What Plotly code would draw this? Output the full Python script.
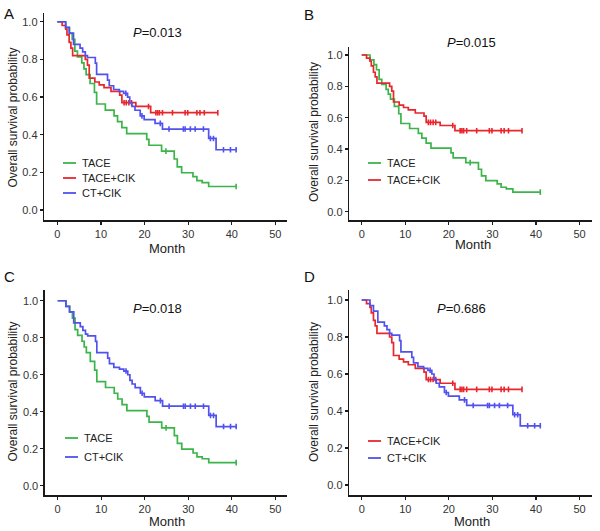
import plotly.graph_objects as go

W, H = 600, 531

# ---------------- data ----------------
# TACE group: step times (months) and survival after each step
tace_t = [0, 1.9, 2.8, 3.4, 4.0, 4.6, 5.6, 6.1, 6.6, 7.5, 8.5, 9.0, 11.0, 13.0, 13.8,
          14.8, 15.9, 20.5, 21.0, 23.9, 26.8, 27.5, 28.5, 31.1, 32.0, 33.2, 34.7]
tace_s = [1.0, 0.969, 0.938, 0.906, 0.844, 0.813, 0.781, 0.750, 0.719, 0.672, 0.625,
          0.563, 0.531, 0.500, 0.469, 0.438, 0.406, 0.375, 0.344, 0.313, 0.271, 0.229,
          0.198, 0.177, 0.156, 0.146, 0.125]
tace_end = 41.0
tace_cens = [24.9, 41.0]

# TACE+CIK group
tacecik_t = [0, 1.1, 1.9, 2.2, 2.7, 3.1, 3.5, 6.4, 6.9, 7.3, 8.6, 9.6, 10.7, 12.3,
             14.3, 14.8, 18.0, 21.4]
tacecik_s = [1.0, 0.98, 0.96, 0.93, 0.89, 0.86, 0.82, 0.80, 0.77, 0.70, 0.68, 0.665,
             0.65, 0.63, 0.61, 0.57, 0.55, 0.517]
tacecik_end = 36.8
tacecik_cens = [15.3, 15.8, 16.4, 17.0, 20.9, 22.6, 23.0, 23.4, 24.1, 26.4, 29.3,
                29.9, 32.0, 32.7, 33.7, 36.8]

# CT+CIK group
ctcik_t = [0, 1.9, 2.7, 3.7, 5.2, 5.8, 6.4, 6.9, 8.7, 9.0, 11.5, 11.9, 12.9, 14.2,
           15.2, 16.1, 16.6, 17.1, 17.8, 19.0, 19.9, 22.4, 24.1, 34.7, 36.4]
ctcik_s = [1.0, 0.97, 0.94, 0.88, 0.86, 0.84, 0.82, 0.81, 0.78, 0.72, 0.69, 0.66,
           0.64, 0.63, 0.62, 0.60, 0.57, 0.55, 0.53, 0.50, 0.48, 0.46, 0.43, 0.38, 0.32]
ctcik_end = 41.0
ctcik_cens = [15.7, 19.4, 23.6, 25.6, 28.9, 29.3, 30.5, 31.6, 33.5, 35.1, 35.8,
              38.1, 39.7, 41.0]

panel_letters = ["A", "B", "C", "D"]
p_values = ["0.013", "0.015", "0.018", "0.686"]
panel_groups = [["TACE", "TACE+CIK", "CT+CIK"], ["TACE", "TACE+CIK"],
                ["TACE", "CT+CIK"], ["TACE+CIK", "CT+CIK"]]
x_ticks = [0, 10, 20, 30, 40, 50]
y_ticks = [0.0, 0.2, 0.4, 0.6, 0.8, 1.0]

# ---------------- styling ----------------
colors = {"TACE": "#3bb44a", "TACE+CIK": "#e8262c", "CT+CIK": "#5151ee"}
groups = {
    "TACE": (tace_t, tace_s, tace_end, tace_cens),
    "TACE+CIK": (tacecik_t, tacecik_s, tacecik_end, tacecik_cens),
    "CT+CIK": (ctcik_t, ctcik_s, ctcik_end, ctcik_cens),
}
FONT = "Arial, Liberation Sans, sans-serif"
TXT = "#222222"


def px_x(v):
    return v / W


def px_y(v):
    return 1 - v / H


# panel geometry in pixels: (left, right, top, bottom), axis ranges
panels_px = [
    dict(l=44.3, r=286.7, t=12.7, b=220, xr=[-3.0, 52.6], yr=[-0.053, 1.048]),
    dict(l=349.3, r=591.7, t=46.7, b=220, xr=[-2.85, 52.8], yr=[-0.053, 1.053]),
    dict(l=45.0, r=286.7, t=290, b=495, xr=[-2.9, 52.6], yr=[-0.05, 1.058]),
    dict(l=349.3, r=591.7, t=290, b=495, xr=[-2.85, 52.8], yr=[-0.054, 1.054]),
]
letter_pos = [(9, 13), (309, 14), (9, 276), (309, 276)]
p_pos = [(157, 33), (471, 43), (157, 308), (461, 308)]
ytitle_pos = [(12.5, 118), (314, 132), (12.5, 392), (314, 392)]
xtitle_pos = [(167, 248), (472.5, 245), (167, 521.5), (472, 521.5)]
legend_pos = [(63, 80, [163, 178, 193]), (368, 385, [163, 180]),
              (65, 82, [438, 457]), (368, 385, [441, 458])]


def surv_at(t_list, s_list, t):
    val = s_list[0]
    for ti, si in zip(t_list, s_list):
        if ti <= t:
            val = si
    return val


fig = go.Figure()
layout = dict(width=W, height=H, margin=dict(l=0, r=0, t=0, b=0),
              paper_bgcolor="white", plot_bgcolor="white", showlegend=False,
              font=dict(family=FONT, color=TXT))
annotations = []
shapes = []

for i, g in enumerate(panel_groups):
    n = "" if i == 0 else str(i + 1)
    xa, ya = "x" + n, "y" + n
    p = panels_px[i]
    axis_common = dict(showgrid=False, zeroline=False, showline=True,
                       linecolor="#1a1a1a", linewidth=1.6, ticks="outside",
                       ticklen=3, tickwidth=1.3, tickcolor="#1a1a1a",
                       tickfont=dict(size=11, color="#333333", family=FONT))
    layout["xaxis" + n] = dict(axis_common, domain=[px_x(p["l"]), px_x(p["r"])],
                               range=p["xr"], tickvals=x_ticks, anchor=ya)
    layout["yaxis" + n] = dict(axis_common, domain=[px_y(p["b"]), px_y(p["t"])],
                               range=p["yr"], tickvals=y_ticks, tickformat=".1f",
                               anchor=xa)
    for name in g:
        t, s, end, cens = groups[name]
        fig.add_trace(go.Scatter(x=t + [end], y=s + [s[-1]], mode="lines",
                                 line=dict(color=colors[name], width=1.7, shape="hv"),
                                 xaxis=xa, yaxis=ya, name=name))
        fig.add_trace(go.Scatter(x=cens, y=[surv_at(t, s, c) for c in cens],
                                 mode="markers",
                                 marker=dict(symbol="line-ns", size=4,
                                             line=dict(color=colors[name], width=1.6)),
                                 xaxis=xa, yaxis=ya, name=name))
    # texts
    lx, ly = letter_pos[i]
    annotations.append(dict(text=panel_letters[i], x=px_x(lx), y=px_y(ly), xref="paper",
                            yref="paper", showarrow=False, font=dict(size=15, color="#111"),
                            xanchor="center", yanchor="middle"))
    ppx, ppy = p_pos[i]
    annotations.append(dict(text="<i>P</i>=" + p_values[i], x=px_x(ppx), y=px_y(ppy),
                            xref="paper", yref="paper", showarrow=False,
                            font=dict(size=13, color="#111"), xanchor="center",
                            yanchor="middle"))
    tx, ty = ytitle_pos[i]
    annotations.append(dict(text="Overall survival probability", x=px_x(tx), y=px_y(ty),
                            xref="paper", yref="paper", showarrow=False, textangle=-90,
                            font=dict(size=12, color=TXT), xanchor="center",
                            yanchor="middle"))
    mx, my = xtitle_pos[i]
    annotations.append(dict(text="Month", x=px_x(mx), y=px_y(my), xref="paper",
                            yref="paper", showarrow=False, font=dict(size=13, color=TXT),
                            xanchor="center", yanchor="middle"))
    # manual legend
    x0, xt, rows = legend_pos[i]
    for name, ry in zip(g, rows):
        shapes.append(dict(type="line", xref="paper", yref="paper", x0=px_x(x0),
                           x1=px_x(x0 + 13), y0=px_y(ry), y1=px_y(ry),
                           line=dict(color=colors[name], width=1.8)))
        annotations.append(dict(text=name, x=px_x(xt), y=px_y(ry), xref="paper",
                                yref="paper", showarrow=False,
                                font=dict(size=11, color=TXT), xanchor="left",
                                yanchor="middle"))

layout["annotations"] = annotations
layout["shapes"] = shapes
fig.update_layout(**layout)
fig.write_html("out.html",
               config={"displayModeBar": False, "staticPlot": True},
               post_script="document.body.style.margin='0';"
                           "document.body.style.padding='0';"
                           "document.body.style.overflow='hidden';")
